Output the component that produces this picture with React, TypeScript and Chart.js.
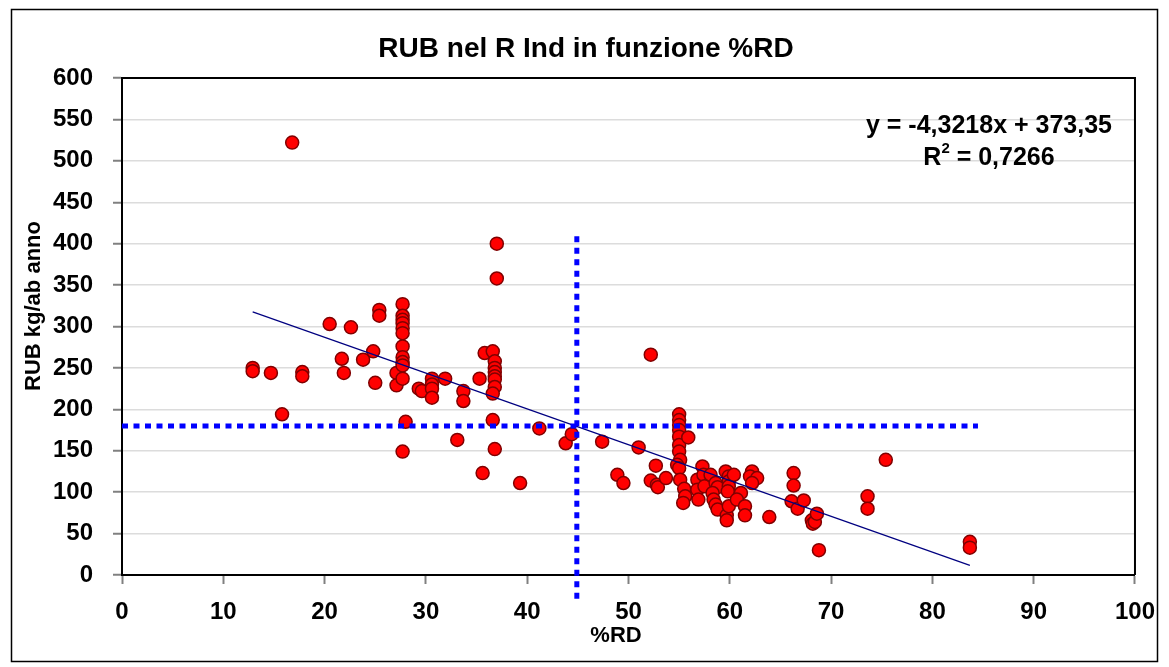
import React, { useEffect, useRef } from "react";
import { Chart, registerables } from "chart.js";

Chart.register(...registerables);

// %RD values (x)
const RD_PCT = [
  12.9, 12.9, 14.7, 15.8, 16.8, 17.8, 17.8,
  20.5, 21.7, 21.9, 22.6, 23.8, 24.8, 25.0, 25.4, 25.4,
  27.1, 27.1, 27.7, 27.7, 27.7, 27.7, 27.7, 27.7, 27.7, 27.7, 27.7, 27.7, 27.7, 28.0, 27.7,
  29.3, 29.6, 30.6, 30.6, 30.6, 30.6, 31.9, 33.1, 33.7, 33.7,
  35.3, 35.6, 35.8, 36.6, 36.8, 36.8, 36.8, 36.8, 36.8, 36.8, 36.6, 36.6, 36.8, 37.0, 37.0,
  39.3, 41.2, 43.8, 44.4,
  47.4, 48.9, 49.5, 51.0, 52.2,
  52.2, 52.7, 52.8, 52.9, 53.7,
  55.0, 55.0, 55.0, 55.0, 55.0, 55.0, 55.0, 55.1, 54.8, 55.0, 55.1, 55.9, 55.5, 55.6, 55.4,
  56.8, 56.8, 56.9, 57.3, 57.4, 57.5, 58.1, 58.6, 58.8, 58.3, 58.4, 58.6, 58.8,
  59.6, 59.9, 59.9, 59.9, 59.8, 60.4, 59.7, 59.7, 59.9, 61.1, 60.7, 61.5, 61.5,
  62.2, 62.0, 62.7, 62.2, 63.9,
  66.3, 66.3, 66.1, 66.7, 67.3, 68.1, 68.2, 68.4, 68.6, 68.8,
  73.6, 73.6, 75.4, 83.7, 83.7,
];

// RUB kg/ab anno values (y)
const RUB_KG = [
  250, 246, 244, 194, 522, 245, 240,
  303, 261, 244, 299, 260, 270, 232, 320, 313,
  244, 229, 327, 313, 308, 304, 298, 292, 276, 263, 257, 253, 237, 185, 149,
  225, 222, 237, 230, 225, 214, 237, 163, 222, 210,
  237, 123, 268, 270, 258, 250, 245, 240, 236, 227, 219, 187, 152, 400, 358,
  111, 177, 159, 170,
  161, 121, 111, 154, 266,
  114, 132, 109, 106, 117,
  194, 187, 181, 175, 167, 157, 149, 139, 133, 129, 115, 166, 104, 95, 87,
  115, 103, 91, 131, 121, 107, 121, 111, 106, 99, 91, 85, 79,
  125, 119, 113, 107, 101, 121, 72, 66, 83, 99, 91, 83, 72,
  125, 119, 117, 111, 70,
  123, 108, 89, 80, 90, 66, 62, 64, 74, 30,
  95, 80, 139, 40, 33,
];

// Linear trend as printed on the chart
const TREND_SLOPE = -4.3218;
const TREND_INTERCEPT = 373.35;
const TREND_X = [12.9, 83.7];
const EQUATION_TEXT = "y = -4,3218x + 373,35";
const R2_TEXT = " = 0,7266";

// Threshold reference lines
const THRESH_RD = 44.9;
const VLINE_Y = [409, -35];
const THRESH_RUB = 180;
const HLINE_X = [0, 84.5];

const X_TICKS = [0, 10, 20, 30, 40, 50, 60, 70, 80, 90, 100];
const Y_TICKS = [0, 50, 100, 150, 200, 250, 300, 350, 400, 450, 500, 550, 600];

const TITLE = "RUB nel R Ind in funzione %RD";
const X_TITLE = "%RD";
const Y_TITLE = "RUB kg/ab anno";

const FONT = "'Liberation Sans', Arial, Helvetica, sans-serif";

const decorPlugin = {
  id: "decor",
  beforeDraw(chart: any) {
    const { ctx } = chart;
    ctx.save();
    ctx.fillStyle = "#ffffff";
    ctx.fillRect(0, 0, chart.width, chart.height);
    ctx.restore();
  },
  afterDraw(chart: any) {
    const { ctx, chartArea } = chart;
    ctx.save();
    // outer frame
    ctx.strokeStyle = "#000";
    ctx.lineWidth = 1.5;
    ctx.strokeRect(11.5, 9.5, 1146, 652);
    // plot frame top/right
    ctx.lineWidth = 2;
    ctx.beginPath();
    ctx.moveTo(chartArea.left, chartArea.top);
    ctx.lineTo(chartArea.right, chartArea.top);
    ctx.lineTo(chartArea.right, chartArea.bottom);
    ctx.stroke();

    ctx.fillStyle = "#000";
    ctx.textBaseline = "middle";
    // title
    ctx.font = `bold 28px ${FONT}`;
    ctx.textAlign = "center";
    ctx.fillText(TITLE, 586, 49);
    // x title
    ctx.font = `bold 22px ${FONT}`;
    ctx.fillText(X_TITLE, 616, 636);
    // y title
    ctx.save();
    ctx.translate(34, 306);
    ctx.rotate(-Math.PI / 2);
    ctx.fillText(Y_TITLE, 0, 0);
    ctx.restore();
    // equation
    ctx.font = `bold 25px ${FONT}`;
    ctx.textAlign = "center";
    ctx.fillText(EQUATION_TEXT, 989, 126);
    // R^2
    const big = `bold 25px ${FONT}`;
    const small = `bold 15px ${FONT}`;
    ctx.font = big;
    const wR = ctx.measureText("R").width;
    const wRest = ctx.measureText(R2_TEXT).width;
    ctx.font = small;
    const w2 = ctx.measureText("2").width;
    const total = wR + w2 + wRest;
    const x0 = 989 - total / 2;
    ctx.textAlign = "left";
    ctx.font = big;
    ctx.fillText("R", x0, 158);
    ctx.font = small;
    ctx.fillText("2", x0 + wR, 149);
    ctx.font = big;
    ctx.fillText(R2_TEXT, x0 + wR + w2, 158);
    ctx.restore();
  },
};

export default function App() {
  const canvasRef = useRef<HTMLCanvasElement>(null);

  useEffect(() => {
    const canvas = canvasRef.current;
    if (!canvas) return;
    const points = RD_PCT.map((x, i) => ({ x, y: RUB_KG[i] }));
    const trend = TREND_X.map((x) => ({ x, y: TREND_SLOPE * x + TREND_INTERCEPT }));
    const vline = VLINE_Y.map((y) => ({ x: THRESH_RD, y }));
    const hline = HLINE_X.map((x) => ({ x, y: THRESH_RUB }));

    const tickFont = { family: FONT, size: 24, weight: "bold" as const };

    const chart = new Chart(canvas, {
      type: "scatter",
      data: {
        datasets: [
          {
            label: "vline",
            data: vline,
            showLine: true,
            borderColor: "#0000FF",
            borderWidth: 5,
            borderDash: [6, 5.5],
            borderCapStyle: "butt",
            pointRadius: 0,
            clip: false as any,
            order: 0,
          },
          {
            label: "hline",
            data: hline,
            showLine: true,
            borderColor: "#0000FF",
            borderWidth: 5,
            borderDash: [6, 5.5],
            borderCapStyle: "butt",
            pointRadius: 0,
            order: 0,
          },
          {
            label: "trend",
            data: trend,
            showLine: true,
            borderColor: "#000080",
            borderWidth: 1.2,
            pointRadius: 0,
            order: 1,
          },
          {
            label: "RUB",
            data: points,
            backgroundColor: "#FF0000",
            borderColor: "#800000",
            borderWidth: 1.5,
            pointRadius: 6.5,
            order: 2,
          },
        ],
      },
      options: {
        animation: false,
        responsive: false,
        devicePixelRatio: 1,
        layout: { padding: { top: 78, right: 32, left: 0, bottom: 0 } },
        plugins: {
          legend: { display: false },
          tooltip: { enabled: false },
          title: { display: false },
        },
        scales: {
          x: {
            type: "linear",
            min: 0,
            max: 100,
            afterBuildTicks: (s: any) => {
              s.ticks = X_TICKS.map((v) => ({ value: v }));
            },
            ticks: {
              font: tickFont,
              color: "#000",
              padding: 14,
              autoSkip: false,
              maxRotation: 0,
              callback: (v: any) => String(v),
            },
            grid: {
              drawOnChartArea: false,
              drawTicks: true,
              tickLength: 9,
              tickColor: "#808080",
              tickWidth: 2,
            },
            border: { display: true, color: "#000", width: 2 },
            afterFit: (s: any) => {
              s.height = 92;
            },
          },
          y: {
            type: "linear",
            min: 0,
            max: 600,
            afterBuildTicks: (s: any) => {
              s.ticks = Y_TICKS.map((v) => ({ value: v }));
            },
            ticks: {
              font: tickFont,
              color: "#000",
              padding: 20,
              autoSkip: false,
              callback: (v: any) => String(v),
            },
            grid: {
              color: "#dcdcdc",
              lineWidth: 1.5,
              drawTicks: true,
              tickLength: 9,
              tickColor: "#808080",
              tickWidth: 2,
            },
            border: { display: true, color: "#000", width: 2 },
            afterFit: (s: any) => {
              s.width = 122;
            },
          },
        },
      },
      plugins: [decorPlugin],
    } as any);
    return () => chart.destroy();
  }, []);

  return (
    <div style={{ position: "fixed", left: 0, top: 0, width: 1169, height: 667, background: "#fff" }}>
      <canvas ref={canvasRef} width={1169} height={667} style={{ display: "block" }} />
    </div>
  );
}
